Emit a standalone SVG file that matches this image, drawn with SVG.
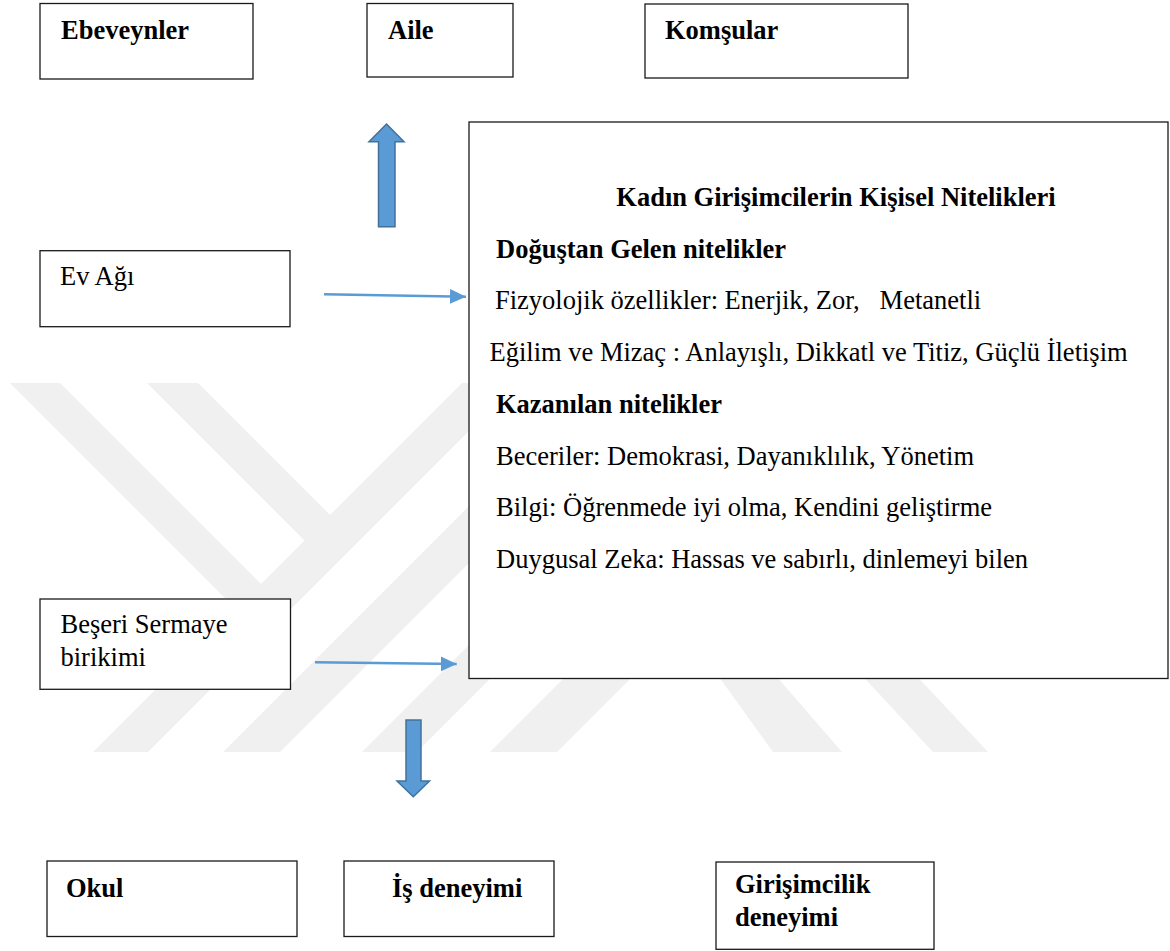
<svg xmlns="http://www.w3.org/2000/svg" width="1170" height="951" viewBox="0 0 1170 951">
  <defs>
    <style>
      .box { fill: #ffffff; stroke: #1a1a1a; stroke-width: 1.3; }
      .t { font-family: "Liberation Serif", "Times New Roman", serif; font-size: 26.5px; fill: #000; }
      .b { font-weight: bold; }
      .wm { fill: #f0f0f0; }
      .blk { fill: #5b9bd5; stroke: #41719c; stroke-width: 1.5; }
      .con { stroke: #5b9bd5; stroke-width: 2.5; fill: none; }
    </style>
    <marker id="ah" markerUnits="userSpaceOnUse" markerWidth="16" markerHeight="16" refX="16" refY="7.5" orient="auto">
      <path d="M0,0 L16,7.5 L0,15 z" fill="#5b9bd5"/>
    </marker>
  </defs>
  <rect x="0" y="0" width="1170" height="951" fill="#ffffff"/>

  <g id="watermark">
    <polygon class="wm" points="10,383 60,383 262.5,585.5 237.5,610.5"/>
    <polygon class="wm" points="147,383 198,383 331.5,516.5 306,542"/>
    <polygon class="wm" points="462,383 517,383 148,752 93,752"/>
    <polygon class="wm" points="592,383 649,383 280,752 223,752"/>
    <polygon class="wm" points="731,383 786,383 417,752 362,752"/>
    <polygon class="wm" points="859,383 926,383 557,752 490,752"/>
    <polygon class="wm" points="714,670 771,670 842,752 773,752"/>
    <polygon class="wm" points="857,670 911,670 988,752 933,752"/>
  </g>

  <g id="connectors">
    <line class="con" x1="324" y1="294.3" x2="466" y2="296.7" marker-end="url(#ah)"/>
    <line class="con" x1="315" y1="662.3" x2="456.7" y2="664" marker-end="url(#ah)"/>
    <polygon class="blk" points="386.5,124 404,141.7 395,141.7 395,226.7 378.5,226.7 378.5,141.7 369,141.7"/>
    <polygon class="blk" points="406,720 421,720 421,781 429.5,781 413.3,796.7 397,781 406,781"/>
  </g>

  <g id="ebeveynler">
    <rect class="box" x="40" y="3.5" width="213" height="75.5"/>
    <text class="t b" x="61" y="39">Ebeveynler</text>
  </g>
  <g id="aile">
    <rect class="box" x="367" y="3.5" width="146" height="73.5"/>
    <text class="t b" x="388" y="38.5">Aile</text>
  </g>
  <g id="komsular">
    <rect class="box" x="645" y="4" width="263" height="74"/>
    <text class="t b" x="665" y="38.5">Komşular</text>
  </g>

  <g id="ev-agi">
    <rect class="box" x="40" y="250.7" width="250" height="76"/>
    <text class="t" x="60" y="285">Ev Ağı</text>
  </g>

  <g id="beseri">
    <rect class="box" x="40" y="599" width="250.5" height="90.3"/>
    <text class="t" x="60.5" y="633">Beşeri Sermaye</text>
    <text class="t" x="60.5" y="666">birikimi</text>
  </g>

  <g id="nitelikler">
    <rect class="box" x="469" y="122" width="699" height="556.5"/>
    <text class="t b" x="836" y="205.5" text-anchor="middle">Kadın Girişimcilerin Kişisel Nitelikleri</text>
    <text class="t b" x="496" y="257.5">Doğuştan Gelen nitelikler</text>
    <text class="t" x="495" y="308.5" xml:space="preserve">Fizyolojik özellikler: Enerjik, Zor,   Metanetli</text>
    <text class="t" x="489.5" y="360.5">Eğilim ve Mizaç : Anlayışlı, Dikkatl ve Titiz, Güçlü İletişim</text>
    <text class="t b" x="496" y="412.5">Kazanılan nitelikler</text>
    <text class="t" x="496" y="464.5">Beceriler: Demokrasi, Dayanıklılık, Yönetim</text>
    <text class="t" x="496" y="515.8">Bilgi: Öğrenmede iyi olma, Kendini geliştirme</text>
    <text class="t" x="496" y="567.5">Duygusal Zeka: Hassas ve sabırlı, dinlemeyi bilen</text>
  </g>

  <g id="okul">
    <rect class="box" x="47" y="861" width="250" height="75.5"/>
    <text class="t b" x="66" y="897">Okul</text>
  </g>
  <g id="is-deneyimi">
    <rect class="box" x="344" y="861" width="210" height="75.5"/>
    <text class="t b" x="392" y="897">İş deneyimi</text>
  </g>
  <g id="girisimcilik">
    <rect class="box" x="716" y="862" width="218" height="87.3"/>
    <text class="t b" x="735" y="893">Girişimcilik</text>
    <text class="t b" x="735" y="926">deneyimi</text>
  </g>
</svg>
